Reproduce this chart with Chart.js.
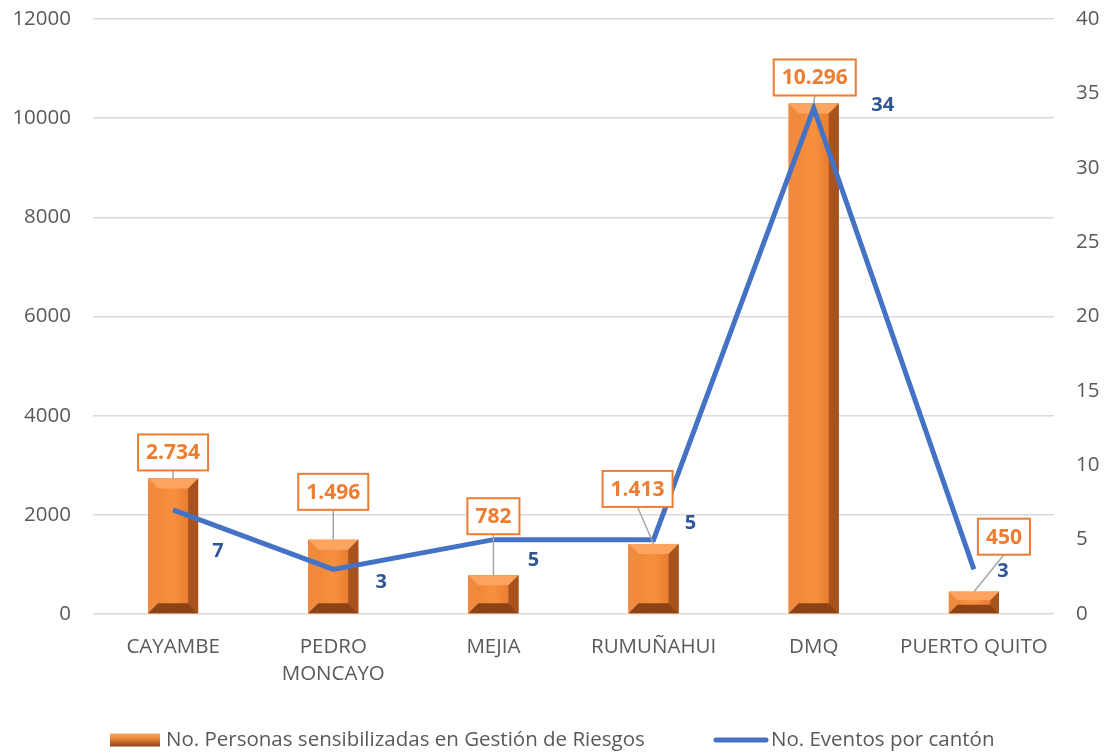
<!DOCTYPE html>
<html>
<head>
<meta charset="utf-8">
<script src="https://cdn.jsdelivr.net/npm/chart.js@4.4.1/dist/chart.umd.min.js"></script>
<style>
  html, body { margin: 0; padding: 0; background: #fff; }
  #wrap { position: relative; width: 1109px; height: 753px; }
</style>
</head>
<body>
<div id="wrap"><canvas id="chart" width="1109" height="753"></canvas></div>
<script>
// categories and values
const cantones = ["CAYAMBE", ["PEDRO", "MONCAYO"], "MEJIA", "RUMUÑAHUI", "DMQ", "PUERTO QUITO"];
const personas = [2734, 1496, 782, 1413, 10296, 450];
const eventos = [7, 3, 5, 5, 34, 3];
const personasLabels = ["2.734", "1.496", "782", "1.413", "10.296", "450"];

const ORANGE = "#ED7D31";
const BLUE = "#4472C4";
const FONT = "'Open Sans', 'Liberation Sans', sans-serif";

// label placement relative to bar top / line point (dx, dy)
const boxOffsets = [[0, -26], [0, -48], [0, -59], [-16, -55], [1, -26], [30, -55]];
const lineLabelOffsets = [[45, 41], [48, 13], [40, 21], [37, -16], [69, -3], [29, 2]];

// draws the beveled look on each bar
const bevelBars = {
    id: "bevelBars",
    afterDatasetDraw(chart, args) {
        if (args.index !== 0) return;
        const ctx = chart.ctx;
        args.meta.data.forEach(bar => {
            const w = bar.width;
            const x0 = bar.x - w / 2, x1 = bar.x + w / 2;
            const y0 = bar.y, y1 = bar.base;
            const b = Math.min(10, (y1 - y0) / 2.5, w / 4);
            ctx.save();
            // face
            let g = ctx.createLinearGradient(x0, 0, x1, 0);
            g.addColorStop(0, "#EE8232");
            g.addColorStop(0.5, "#F7913F");
            g.addColorStop(1, "#E07028");
            ctx.fillStyle = g;
            ctx.fillRect(x0, y0, w, y1 - y0);
            const poly = (pts, col) => {
                ctx.beginPath();
                ctx.moveTo(pts[0][0], pts[0][1]);
                pts.slice(1).forEach(p => ctx.lineTo(p[0], p[1]));
                ctx.closePath();
                ctx.fillStyle = col;
                ctx.fill();
            };
            poly([[x0, y0], [x1, y0], [x1 - b, y0 + b], [x0 + b, y0 + b]], "#FBA560");
            poly([[x0, y0], [x0 + b, y0 + b], [x0 + b, y1 - b], [x0, y1]], "#F08A3E");
            poly([[x1, y0], [x1, y1], [x1 - b, y1 - b], [x1 - b, y0 + b]], "#A85220");
            poly([[x0, y1], [x0 + b, y1 - b], [x1 - b, y1 - b], [x1, y1]], "#8E4316");
            ctx.restore();
        });
    }
};

// data labels: orange boxes for bars, blue numbers for the line
const valueLabels = {
    id: "valueLabels",
    afterDatasetsDraw(chart) {
        const ctx = chart.ctx;
        const bars = chart.getDatasetMeta(0).data;
        const pts = chart.getDatasetMeta(1).data;
        ctx.save();
        ctx.textAlign = "center";
        ctx.textBaseline = "middle";
        bars.forEach((bar, i) => {
            ctx.font = "bold 21px " + FONT;
            const txt = personasLabels[i];
            const tw = ctx.measureText(txt).width;
            const bw = tw + 16, bh = 36;
            const cx = bar.x + boxOffsets[i][0];
            const cy = bar.y + boxOffsets[i][1];
            // leader line
            if (cy + bh / 2 < bar.y - 4) {
                ctx.strokeStyle = "#A6A6A6";
                ctx.lineWidth = 1.5;
                ctx.beginPath();
                ctx.moveTo(cx, cy + bh / 2);
                ctx.lineTo(bar.x, bar.y);
                ctx.stroke();
            }
            ctx.fillStyle = "#fff";
            ctx.fillRect(cx - bw / 2, cy - bh / 2, bw, bh);
            ctx.strokeStyle = ORANGE;
            ctx.lineWidth = 2;
            ctx.strokeRect(cx - bw / 2, cy - bh / 2, bw, bh);
            ctx.fillStyle = ORANGE;
            ctx.fillText(txt, cx, cy + 1);
        });
        pts.forEach((p, i) => {
            ctx.font = "bold 20px " + FONT;
            ctx.fillStyle = "#2F5597";
            ctx.fillText(String(eventos[i]), p.x + lineLabelOffsets[i][0], p.y + lineLabelOffsets[i][1]);
        });
        ctx.restore();
    }
};

// legend drawn at the bottom of the canvas
const bottomLegend = {
    id: "bottomLegend",
    afterDraw(chart) {
        const ctx = chart.ctx;
        const y = 740;
        ctx.save();
        // bar swatch
        const x0 = 110, w = 50, h = 13;
        const g = ctx.createLinearGradient(0, y - h / 2, 0, y + h / 2);
        g.addColorStop(0, "#FBA560");
        g.addColorStop(0.35, "#F08A3E");
        g.addColorStop(1, "#8E4316");
        ctx.fillStyle = g;
        ctx.fillRect(x0, y - h / 2, w, h);
        ctx.font = "20.5px " + FONT;
        ctx.fillStyle = "#595959";
        ctx.textAlign = "left";
        ctx.textBaseline = "middle";
        ctx.fillText("No. Personas sensibilizadas en Gestión de Riesgos", 166, y);
        // line swatch
        ctx.strokeStyle = BLUE;
        ctx.lineWidth = 5;
        ctx.lineCap = "round";
        ctx.beginPath();
        ctx.moveTo(716, y);
        ctx.lineTo(766, y);
        ctx.stroke();
        ctx.fillText("No. Eventos por cantón", 771, y);
        ctx.restore();
    }
};

const tickFont = { family: FONT, size: 20.5 };

new Chart(document.getElementById("chart"), {
    type: "bar",
    data: {
        labels: cantones,
        datasets: [
            {
                type: "bar",
                label: "No. Personas sensibilizadas en Gestión de Riesgos",
                data: personas,
                backgroundColor: ORANGE,
                yAxisID: "y",
                barPercentage: 0.625,
                categoryPercentage: 0.5,
                order: 2
            },
            {
                type: "line",
                label: "No. Eventos por cantón",
                data: eventos,
                borderColor: BLUE,
                backgroundColor: BLUE,
                borderWidth: 5,
                pointRadius: 0,
                tension: 0,
                yAxisID: "y1",
                order: 1
            }
        ]
    },
    options: {
        responsive: false,
        animation: false,
        layout: { padding: { left: 0, right: 0, top: 0, bottom: 0 } },
        plugins: {
            legend: { display: false },
            tooltip: { enabled: false }
        },
        scales: {
            x: {
                grid: { display: false },
                border: { display: false },
                ticks: { color: "#595959", font: { family: FONT, size: 20.5, lineHeight: 1.35 }, maxRotation: 0, autoSkip: false, padding: 11 },
                afterFit(s) { s.height = 139; s.paddingLeft = 0; s.paddingRight = 0; }
            },
            y: {
                position: "left",
                min: 0, max: 12000,
                ticks: { stepSize: 2000, color: "#595959", font: tickFont, padding: 22, callback: v => String(v) },
                grid: { color: "#D9D9D9", lineWidth: 1.5, drawTicks: false },
                border: { display: false },
                afterFit(s) { s.width = 93; s.paddingTop = 19; s.paddingBottom = 0; }
            },
            y1: {
                position: "right",
                min: 0, max: 40,
                ticks: { stepSize: 5, color: "#595959", font: tickFont, padding: 22 },
                grid: { display: false, drawTicks: false },
                border: { display: false },
                afterFit(s) { s.width = 55; s.paddingTop = 19; s.paddingBottom = 0; }
            }
        }
    },
    plugins: [bevelBars, valueLabels, bottomLegend]
});
</script>
</body>
</html>
